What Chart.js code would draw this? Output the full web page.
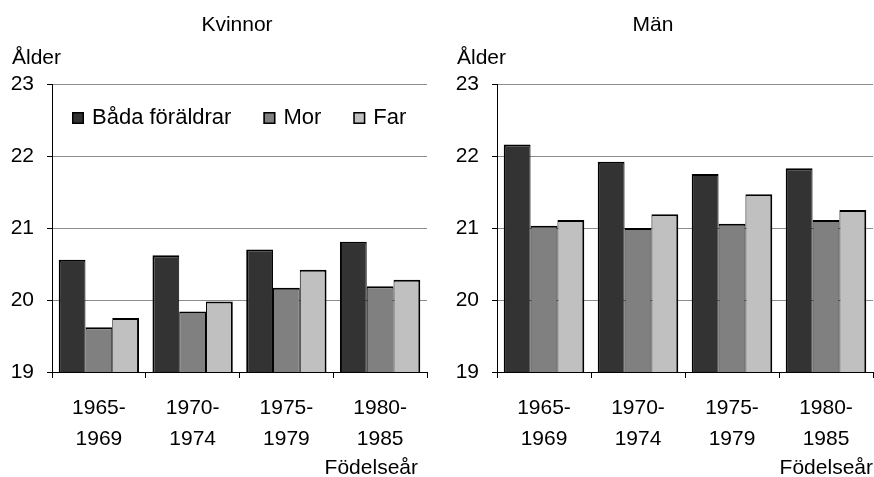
<!DOCTYPE html>
<html>
<head>
<meta charset="utf-8">
<script src="https://cdn.jsdelivr.net/npm/chart.js@4"></script>
<style>
  body { margin: 0; background: #fff; }
  canvas { position: absolute; top: 0; }
</style>
</head>
<body>
<canvas id="women" width="437" height="477" style="left:0"></canvas>
<canvas id="men" width="437" height="477" style="left:437px"></canvas>
<script>
const periods = [['1965-', '1969'], ['1970-', '1974'], ['1975-', '1979'], ['1980-', '1985']];
const seriesNames = ['Båda föräldrar', 'Mor', 'Far'];
const seriesColors = ['#333333', '#808080', '#c0c0c0'];

const womenBoth = [20.56, 20.62, 20.70, 20.81];
const womenMother = [19.62, 19.84, 20.17, 20.19];
const womenFather = [19.75, 19.98, 20.42, 20.28];

const menBoth = [22.16, 21.92, 21.75, 21.83];
const menMother = [21.03, 21.00, 21.06, 21.11];
const menFather = [21.11, 21.19, 21.47, 21.25];

const FAMILY = '"Liberation Sans", Arial, sans-serif';
Chart.defaults.font.family = FAMILY;
Chart.defaults.color = '#000';

// titles, axis captions and the in-plot legend
const textPlugin = {
  id: 'texts',
  afterDraw(chart, args, o) {
    const ctx = chart.ctx, a = chart.chartArea;
    ctx.save();
    ctx.fillStyle = '#000';
    ctx.font = '21px ' + FAMILY;
    ctx.textBaseline = 'alphabetic';
    ctx.textAlign = 'center';
    ctx.fillText(o.title, o.titleX, 31);
    ctx.textAlign = 'left';
    ctx.fillText('Ålder', o.yLabelX, 64);
    ctx.textAlign = 'right';
    ctx.fillText('Födelseår', o.xLabelRight, 474);
    if (o.legend) {
      ctx.font = '22px ' + FAMILY;
      ctx.textAlign = 'left';
      let x = a.left + 20;
      chart.data.datasets.forEach(ds => {
        ctx.fillStyle = ds.backgroundColor;
        ctx.fillRect(x, 112, 12, 12);
        ctx.strokeStyle = '#000';
        ctx.lineWidth = 1.5;
        ctx.strokeRect(x + 0.75, 112.75, 10.5, 10.5);
        ctx.fillStyle = '#000';
        ctx.fillText(ds.label, x + 20, 124);
        x += 20 + ctx.measureText(ds.label).width + 32;
      });
    }
    ctx.restore();
  }
};

function makeChart(id, values, texts, axisWidth, padRight) {
  const last = values.length - 1;
  new Chart(document.getElementById(id), {
    type: 'bar',
    data: {
      labels: periods,
      datasets: values.map((v, i) => ({
        label: seriesNames[i],
        data: v,
        backgroundColor: seriesColors[i],
        borderColor: '#000',
        borderWidth: { top: 2, bottom: 1, left: i === 0 ? 2 : 1, right: i === last ? 2 : 1 },
        borderSkipped: false,
        categoryPercentage: 0.857,
        barPercentage: 1
      }))
    },
    options: {
      responsive: false,
      animation: false,
      layout: { padding: { top: 84, left: 0, right: padRight, bottom: 0 } },
      plugins: {
        legend: { display: false },
        tooltip: { enabled: false },
        texts: texts
      },
      scales: {
        x: {
          grid: { drawOnChartArea: false, tickColor: '#000', tickLength: 6, offset: true },
          border: { color: '#000', width: 1 },
          ticks: { font: { size: 21, lineHeight: 1.48 }, padding: 15, maxRotation: 0 },
          afterFit: s => { s.height = 105; }
        },
        y: {
          min: 19,
          max: 23,
          ticks: { stepSize: 1, font: { size: 21 }, padding: 13 },
          grid: { color: '#8c8c8c', tickColor: '#000', tickLength: 5 },
          border: { color: '#000', width: 1 },
          afterFit: s => { s.width = axisWidth; }
        }
      }
    },
    plugins: [textPlugin]
  });
}

makeChart('women', [womenBoth, womenMother, womenFather],
  { title: 'Kvinnor', titleX: 237, yLabelX: 12, xLabelRight: 418, legend: true }, 52, 10);
makeChart('men', [menBoth, menMother, menFather],
  { title: 'Män', titleX: 216, yLabelX: 20, xLabelRight: 436, legend: false }, 60, 1);
</script>
</body>
</html>
